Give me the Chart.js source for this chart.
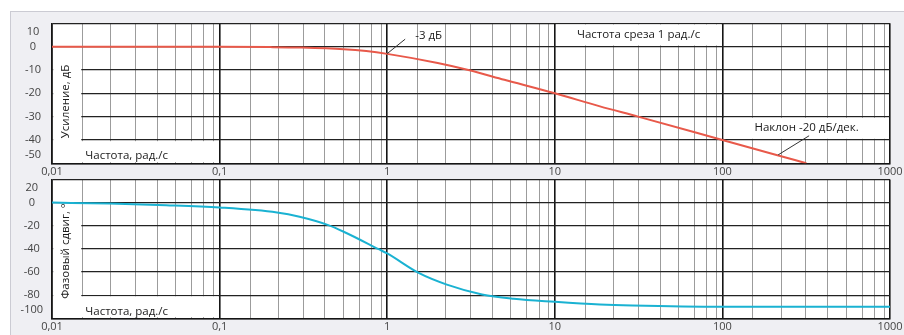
<!DOCTYPE html>
<html><head><meta charset="utf-8">
<script src="https://cdn.jsdelivr.net/npm/chart.js@4.4.1/dist/chart.umd.min.js"></script>
<style>
html,body{margin:0;padding:0;background:#fff;overflow:hidden;}
#wrap{position:relative;width:904px;height:335px;overflow:hidden;}
#panel{position:absolute;left:10px;top:11px;width:900px;height:330px;background:#efeff3;border:1px solid #cbcbd3;}
canvas{position:absolute;left:0;top:0;}
</style></head><body>
<div id="wrap"><div id="panel"></div>
<canvas id="c1" width="904" height="335"></canvas>
<canvas id="c2" width="904" height="335"></canvas>
</div>
<script>
// ---- data ----
const decades = [0.01, 0.1, 1, 10, 100, 1000];
const decadeLabels = ['0,01', '0,1', '1', '10', '100', '1000'];
const minorSteps = [1.52, 2.24, 3.15, 4.25, 5.47, 6.81, 8.05, 9.22];

const gainFreq = [0.01, 0.1, 0.2, 0.3, 0.55, 0.75, 1, 2, 3.05, 5, 10, 18.6, 31.4, 100, 200, 317];
const gainDb   = [0, -0.05, -0.2, -0.4, -1.1, -1.9, -3.1, -7, -10, -14.2, -20, -25.6, -30, -40, -46, -50];

const phaseFreq = [0.01, 0.022, 0.048, 0.1, 0.22, 0.3, 0.445, 0.55, 0.89, 1, 1.54, 2.27, 3.68, 5.68, 10, 18.6, 29, 100, 1000];
const phaseDeg  = [0, -0.9, -2.3, -4.3, -8.6, -12.3, -19.5, -25.2, -40.3, -44, -60.8, -70.9, -79.4, -83.1, -85.7, -88, -88.9, -90, -90];

const gainRange = [-50, 10];
const phaseRange = [-100, 20];
const gainStep = 10;
const phaseStep = 20;

// ---- helpers ----
const FONT = '"Open Sans", "DejaVu Sans", sans-serif';
const gridTicks = [];
decades.forEach((d, i) => {
  gridTicks.push(d);
  if (i < decades.length - 1) minorSteps.forEach(s => gridTicks.push(d * s));
});
const isMajor = v => decades.some(d => Math.abs(v - d) / d < 1e-6);
const labelFor = v => { const i = decades.findIndex(d => Math.abs(v - d) / d < 1e-6); return i >= 0 ? decadeLabels[i] : ''; };

function decor(cfg) {
  return {
    id: 'decor',
    beforeDraw(chart) {
      const { ctx, chartArea: a } = chart;
      ctx.save();
      ctx.fillStyle = '#ffffff';
      ctx.fillRect(a.left, a.top, a.right - a.left, a.bottom - a.top);
      ctx.restore();
    },
    beforeDatasetsDraw(chart) {
      const { ctx, scales: { x, y } } = chart;
      ctx.save();
      ctx.fillStyle = '#ffffff';
      cfg.boxes.forEach(b => {
        const x0 = x.getPixelForValue(b.x0), x1 = x.getPixelForValue(b.x1);
        const y0 = y.getPixelForValue(b.y0), y1 = y.getPixelForValue(b.y1);
        ctx.fillRect(x0 + 1.2, y0 + 1.2, x1 - x0 - 2.4, y1 - y0 - 2.4);
      });
      ctx.restore();
    },
    afterDatasetsDraw(chart) {
      const { ctx, scales: { x, y } } = chart;
      ctx.save();
      ctx.strokeStyle = '#333';
      ctx.lineWidth = 1;
      (cfg.leaders || []).forEach(l => {
        ctx.beginPath();
        ctx.moveTo(x.getPixelForValue(l.x0), y.getPixelForValue(l.y0));
        ctx.lineTo(x.getPixelForValue(l.x1), y.getPixelForValue(l.y1));
        ctx.stroke();
      });
      ctx.fillStyle = '#1a1a1a';
      ctx.font = '11.5px ' + FONT;
      ctx.textBaseline = 'middle';
      cfg.texts.forEach(t => {
        const px = x.getPixelForValue(t.x), py = y.getPixelForValue(t.y);
        ctx.save();
        ctx.translate(px, py);
        if (t.rot) ctx.rotate(-Math.PI / 2);
        ctx.textAlign = t.align || 'left';
        ctx.fillText(t.text, 0, 0);
        ctx.restore();
      });
      ctx.restore();
    }
  };
}

function makeChart(id, pts, color, range, step, pad, yPad, cfg) {
  return new Chart(document.getElementById(id), {
    type: 'line',
    data: { datasets: [{ data: pts, borderColor: color, borderWidth: 2, pointRadius: 0, cubicInterpolationMode: 'monotone', fill: false }] },
    options: {
      responsive: false, animation: false,
      layout: { padding: pad },
      plugins: { legend: { display: false }, tooltip: { enabled: false } },
      scales: {
        x: {
          type: 'logarithmic', min: decades[0], max: decades[decades.length - 1],
          afterBuildTicks: s => { s.ticks = gridTicks.map(v => ({ value: v })); },
          afterFit: s => { s.height = 16; s.paddingLeft = 0; s.paddingRight = 0; },
          ticks: { autoSkip: false, maxRotation: 0, minRotation: 0, padding: 2, color: '#444', font: { family: FONT, size: 11 }, callback: v => labelFor(v) },
          grid: { drawTicks: false, color: c => isMajor(c.tick.value) ? '#151515' : '#9c9c9c', lineWidth: c => isMajor(c.tick.value) ? 1.6 : 1 },
          border: { display: true, color: '#151515', width: 1.6 }
        },
        y: {
          type: 'linear', min: range[0], max: range[1],
          afterFit: s => { s.width = 52; s.paddingTop = 0; s.paddingBottom = 0; },
          ticks: {
            stepSize: step, autoSkip: false, padding: yPad, crossAlign: 'center', color: '#444',
            font: { family: FONT, size: 11, lineHeight: 1.5 },
            callback: (v, i, t) => i === 0 ? [String(v), ''] : (i === t.length - 1 ? ['', String(v)] : String(v))
          },
          grid: { drawTicks: false, color: '#222', lineWidth: 1.3 },
          border: { display: true, color: '#151515', width: 1.6 }
        }
      }
    },
    plugins: [decor(cfg)]
  });
}

makeChart('c1', gainFreq.map((f, i) => ({ x: f, y: gainDb[i] })), '#e8594a', gainRange, gainStep,
  { left: 0, right: 14, top: 23.3, bottom: 335 - 163.3 - 16 }, 11,
  {
    boxes: [
      { x0: 0.01, x1: 0.01 * minorSteps[0], y0: 0, y1: -50 },
      { x0: 0.01, x1: 0.1, y0: -40, y1: -50 },
      { x0: 10, x1: 100, y0: 10, y1: 0 },
      { x0: 100, x1: 1000, y0: -30, y1: -40 }
    ],
    leaders: [
      { x0: 1.28, y0: 3.2, x1: 1.0, y1: -3 },
      { x0: 329, y0: -38.2, x1: 215, y1: -46.4 }
    ],
    texts: [
      { text: '-3 дБ', x: 1.47, y: 4.6 },
      { text: 'Частота среза 1 рад./с', x: 31.6, y: 5, align: 'center' },
      { text: 'Наклон -20 дБ/дек.', x: 318, y: -34.7, align: 'center' },
      { text: 'Усиление, дБ', x: 0.012, y: -23.5, align: 'center', rot: true },
      { text: 'Частота, рад./с', x: 0.0158, y: -46.7 }
    ]
  });

makeChart('c2', phaseFreq.map((f, i) => ({ x: f, y: phaseDeg[i] })), '#1ab2d2', phaseRange, phaseStep,
  { left: 0, right: 14, top: 179.4, bottom: 335 - 318.3 - 16 }, 9,
  {
    boxes: [
      { x0: 0.01, x1: 0.01 * minorSteps[0], y0: 0, y1: -100 },
      { x0: 0.01, x1: 0.1, y0: -80, y1: -100 }
    ],
    texts: [
      { text: 'Фазовый сдвиг, °', x: 0.012, y: -41.9, align: 'center', rot: true },
      { text: 'Частота, рад./с', x: 0.0158, y: -94.1 }
    ]
  });
</script>
</body></html>
